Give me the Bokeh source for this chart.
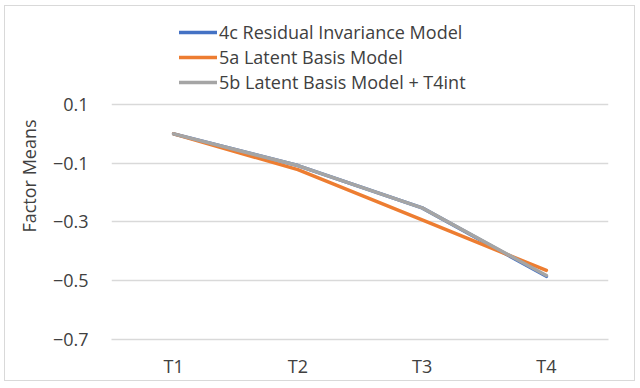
from bokeh.plotting import figure
from bokeh.models import Legend, LegendItem, Range1d, FactorRange, FixedTicker
from bokeh.embed import file_html
from bokeh.resources import INLINE

categories = ["T1", "T2", "T3", "T4"]
model_4c = [0.0, -0.108, -0.252, -0.485]
model_5a = [0.0, -0.122, -0.293, -0.465]
model_5b = [0.0, -0.108, -0.252, -0.482]
y_ticks = [0.1, -0.1, -0.3, -0.5, -0.7]
names = ["4c Residual Invariance Model", "5a Latent Basis Model", "5b Latent Basis Model + T4int"]
colors = ["#4472C4", "#ED7D31", "#A5A5A5"]

FONT = "Open Sans"
TXT = "#404040"
FS = "18px"

p = figure(x_range=FactorRange(*categories, range_padding=0), y_range=Range1d(-0.7, 0.413),
           frame_width=497, frame_height=327,
           min_border_left=106, min_border_right=26, min_border_top=6, min_border_bottom=40,
           output_backend="svg", toolbar_location=None)
p.outline_line_color = None
p.styles = {"border": "1px solid #d9d9d9", "margin-left": "4px", "margin-top": "5px"}

p.yaxis.ticker = FixedTicker(ticks=y_ticks)
p.yaxis.axis_line_color = None
p.yaxis.major_tick_line_color = None
p.yaxis.minor_tick_line_color = None
p.yaxis.major_label_text_font = FONT
p.yaxis.major_label_text_font_size = FS
p.yaxis.major_label_text_color = TXT
p.yaxis.major_label_standoff = 17
p.yaxis.axis_label = "Factor Means"
p.yaxis.axis_label_text_font = FONT
p.yaxis.axis_label_text_font_size = FS
p.yaxis.axis_label_text_font_style = "normal"
p.yaxis.axis_label_text_color = TXT
p.yaxis.axis_label_standoff = 9

p.xaxis.axis_line_color = "#d9d9d9"
p.xaxis.axis_line_width = 1.5
p.xaxis.major_tick_line_color = None
p.xaxis.minor_tick_line_color = None
p.xaxis.major_label_text_font = FONT
p.xaxis.major_label_text_font_size = FS
p.xaxis.major_label_text_color = TXT
p.xaxis.major_label_standoff = 8

p.xgrid.grid_line_color = None
p.ygrid.grid_line_color = "#d9d9d9"
p.ygrid.grid_line_width = 1.5

renderers = []
for ys, c in zip([model_4c, model_5a, model_5b], colors):
    r = p.line(categories, ys, line_color=c, line_width=3.5, line_cap="round", line_join="round")
    renderers.append(r)

legend = Legend(items=[LegendItem(label=n, renderers=[r]) for n, r in zip(names, renderers)],
                location=(68, 245), orientation="vertical")
legend.label_text_font = FONT
legend.label_text_font_size = FS
legend.label_text_color = TXT
legend.glyph_width = 38
legend.glyph_height = 20
legend.label_height = 20
legend.label_standoff = 2
legend.spacing = 1
legend.padding = 0
legend.margin = 0
legend.border_line_color = None
legend.background_fill_alpha = 0
p.add_layout(legend, "center")

open("out.html", "w").write(file_html(p, INLINE))
